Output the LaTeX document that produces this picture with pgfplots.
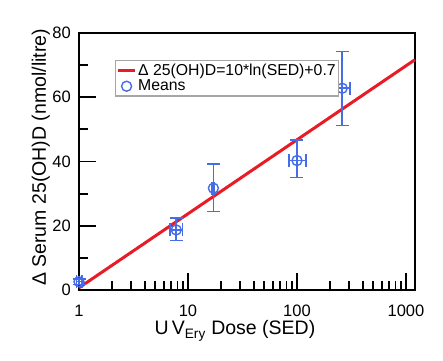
\documentclass[border=0pt]{standalone}
\usepackage{pgfplots}
\usepackage{pgfplotstable}
\pgfplotsset{compat=1.18}
\usepackage{fontspec}
\setmainfont{Liberation Sans}
\definecolor{fitred}{RGB}{232,28,38}
\definecolor{meanblue}{RGB}{70,108,230}
\pgfplotstableread{
x y exp exm eyp eym
1 2.6 0.06 0.05 0.9 0.9
7.8 18.7 1.1 1.0 3.7 3.3
17.1 31.7 0.4 0.4 7.5 7.3
100 40.3 21 16 6.4 5.3
260 62.8 48 37 11.4 11.6
}\means
\pgfplotstableread{
x y
1 0.7
1210 71.7
}\fitline
\begin{document}
\begin{tikzpicture}
\path (0,0) rectangle (443pt,360pt);
\begin{axis}[
  at={(79pt,70pt)}, anchor=south west,
  scale only axis, width=336pt, height=257pt,
  xmode=log, xmin=1, xmax=1210, ymin=0, ymax=80,
  xtick={1,10,100,1000}, xticklabels={1,10,100,1000},
  minor xtick={2,3,4,5,6,7,8,9,20,30,40,50,60,70,80,90,200,300,400,500,600,700,800,900},
  ytick={0,20,40,60,80}, minor ytick={10,30,50,70},
  tick align=inside, xtick pos=bottom, ytick pos=left,
  major tick length=17pt, minor tick length=9pt,
  every tick/.style={black, line width=1.8pt},
  axis line style={line width=2.5pt},
  /pgf/number format/assume math mode=true,
  tick label style={font=\fontsize{16.5}{18}\selectfont, inner sep=0pt},
  xticklabel style={anchor=north, yshift=-15pt},
  yticklabel style={anchor=east, xshift=-8pt},
  ylabel={Δ Serum 25(OH)D (nmol/litre)},
  ylabel style={font=\fontsize{19.5}{21}\selectfont, at={(axis description cs:-0.086,0.516)}, anchor=south, inner sep=0pt},
  xlabel={U\,V\textsubscript{Ery} Dose (SED)},
  xlabel style={font=\fontsize{19.5}{21}\selectfont, at={(axis description cs:0.464,-0.175)}, anchor=base, inner sep=0pt},
  legend style={at={(0.107,0.895)}, anchor=north west, draw=gray!70, line width=1.2pt,
    inner xsep=1pt, inner ysep=2pt, row sep=0pt,
    nodes={inner sep=1.5pt, font=\fontsize{15.8}{18}\selectfont}},
  legend cell align=left,
  clip=false,
]
\addplot[fitred, line width=3pt] table[x=x,y=y] {\fitline};
\addlegendentry{Δ 25(OH)D=10*ln(SED)+0.7}
\addplot[meanblue, only marks, mark=o, mark size=5pt, mark options={line width=1.4pt},
  error bars/.cd, x dir=both, y dir=both, x explicit, y explicit,
  error bar style={line width=1.6pt, meanblue},
  error mark=-,
  error mark options={rotate=90, line width=1.6pt, mark size=6.5pt, meanblue}]
  table[x=x, y=y, x error plus=exp, x error minus=exm, y error plus=eyp, y error minus=eym] {\means};
\addlegendentry{Means}
\end{axis}
\end{tikzpicture}
\end{document}
